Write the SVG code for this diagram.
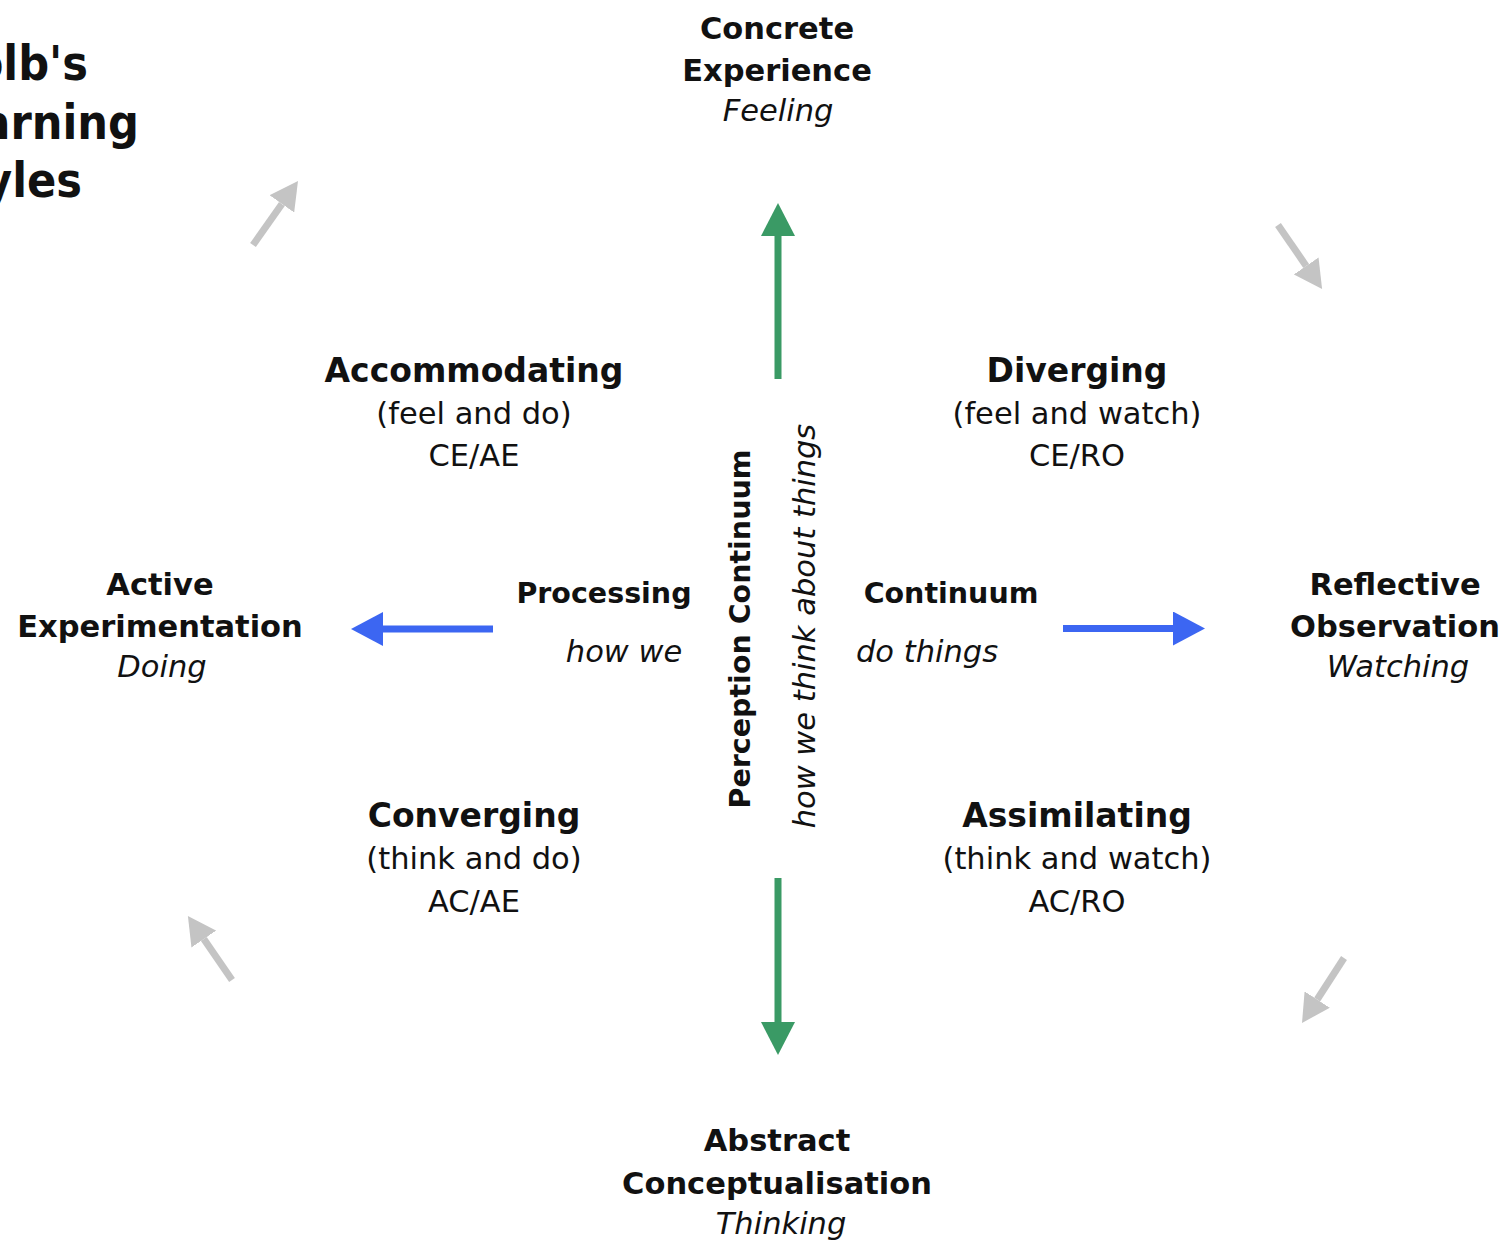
<svg xmlns="http://www.w3.org/2000/svg" width="1503" height="1241" viewBox="0 0 1503 1241">
<style>
text{font-family:"DejaVu Sans","Liberation Sans",sans-serif;fill:#111;font-size:30.5px;text-anchor:middle}
.b{font-weight:bold}
.i{font-style:italic}
.s{font-size:28.5px}
.h{font-size:33px}
.t{font-family:"DejaVu Sans Condensed","DejaVu Sans",sans-serif;font-weight:bold;font-size:48px;text-anchor:end}
.g{stroke:#3a9a65;stroke-width:7;fill:none}
.bl{stroke:#3c66f2;stroke-width:7;fill:none}
.gr{stroke:#c4c4c4;stroke-width:7;fill:none}
</style>
<defs>
<marker id="hg" markerUnits="userSpaceOnUse" viewBox="0 0 33 34" refX="0" refY="17" markerWidth="33" markerHeight="34" orient="auto"><path d="M0,0L33,17L0,34z" fill="#3a9a65"/></marker>
<marker id="hb" markerUnits="userSpaceOnUse" viewBox="0 0 32 34" refX="0" refY="17" markerWidth="32" markerHeight="34" orient="auto"><path d="M0,0L32,17L0,34z" fill="#3c66f2"/></marker>
<marker id="hr" markerUnits="userSpaceOnUse" viewBox="0 0 28 30" refX="0" refY="15" markerWidth="28" markerHeight="30" orient="auto"><path d="M0,0L28,15L0,30z" fill="#c4c4c4"/></marker>
</defs>
<rect width="1503" height="1241" fill="#fff"/>
<g id="title">
<text class="t" x="88" y="80">Kolb's</text>
<text class="t" x="139" y="139">Learning</text>
<text class="t" x="82" y="197">Styles</text>
</g>
<g id="connectors">
<line class="g" x1="778" y1="379" x2="778" y2="236" marker-end="url(#hg)"/>
<line class="g" x1="778" y1="878" x2="778" y2="1022" marker-end="url(#hg)"/>
<line class="bl" x1="493" y1="629" x2="383" y2="629" marker-end="url(#hb)"/>
<line class="bl" x1="1063" y1="628.5" x2="1173" y2="628.5" marker-end="url(#hb)"/>
<line class="gr" x1="253" y1="245" x2="281.9" y2="203.9" marker-end="url(#hr)"/>
<line class="gr" x1="1278" y1="225" x2="1306.2" y2="265.9" marker-end="url(#hr)"/>
<line class="gr" x1="1344" y1="958" x2="1317.2" y2="999.5" marker-end="url(#hr)"/>
<line class="gr" x1="232" y1="980" x2="203.8" y2="939.1" marker-end="url(#hr)"/>
</g>
<g id="concrete-experience">
<text class="b" x="777" y="39">Concrete</text>
<text class="b" x="777" y="81">Experience</text>
<text class="i" x="778" y="121">Feeling</text>
</g>
<g id="abstract-conceptualisation">
<text class="b" x="777" y="1151">Abstract</text>
<text class="b" x="777" y="1194">Conceptualisation</text>
<text class="i" x="781" y="1234">Thinking</text>
</g>
<g id="active-experimentation">
<text class="b" x="160" y="595">Active</text>
<text class="b" x="160" y="637">Experimentation</text>
<text class="i" x="162" y="677">Doing</text>
</g>
<g id="reflective-observation">
<text class="b" x="1395" y="595">Reflective</text>
<text class="b" x="1395" y="637">Observation</text>
<text class="i" x="1398" y="677">Watching</text>
</g>
<g id="accommodating">
<text class="b h" x="474" y="382">Accommodating</text>
<text x="474" y="424">(feel and do)</text>
<text x="474" y="466">CE/AE</text>
</g>
<g id="diverging">
<text class="b h" x="1077" y="382">Diverging</text>
<text x="1077" y="424">(feel and watch)</text>
<text x="1077" y="466">CE/RO</text>
</g>
<g id="converging">
<text class="b h" x="474" y="827">Converging</text>
<text x="474" y="869">(think and do)</text>
<text x="474" y="912">AC/AE</text>
</g>
<g id="assimilating">
<text class="b h" x="1077" y="827">Assimilating</text>
<text x="1077" y="869">(think and watch)</text>
<text x="1077" y="912">AC/RO</text>
</g>
<g id="processing-continuum">
<text class="b s" x="604" y="603">Processing</text>
<text class="i" x="624" y="662">how we</text>
<text class="b s" x="951" y="603">Continuum</text>
<text class="i" x="927" y="662">do things</text>
</g>
<g id="perception-continuum">
<text class="b s" transform="translate(750,629) rotate(-90)">Perception Continuum</text>
<text class="i" transform="translate(815,626) rotate(-90)">how we think about things</text>
</g>
</svg>
